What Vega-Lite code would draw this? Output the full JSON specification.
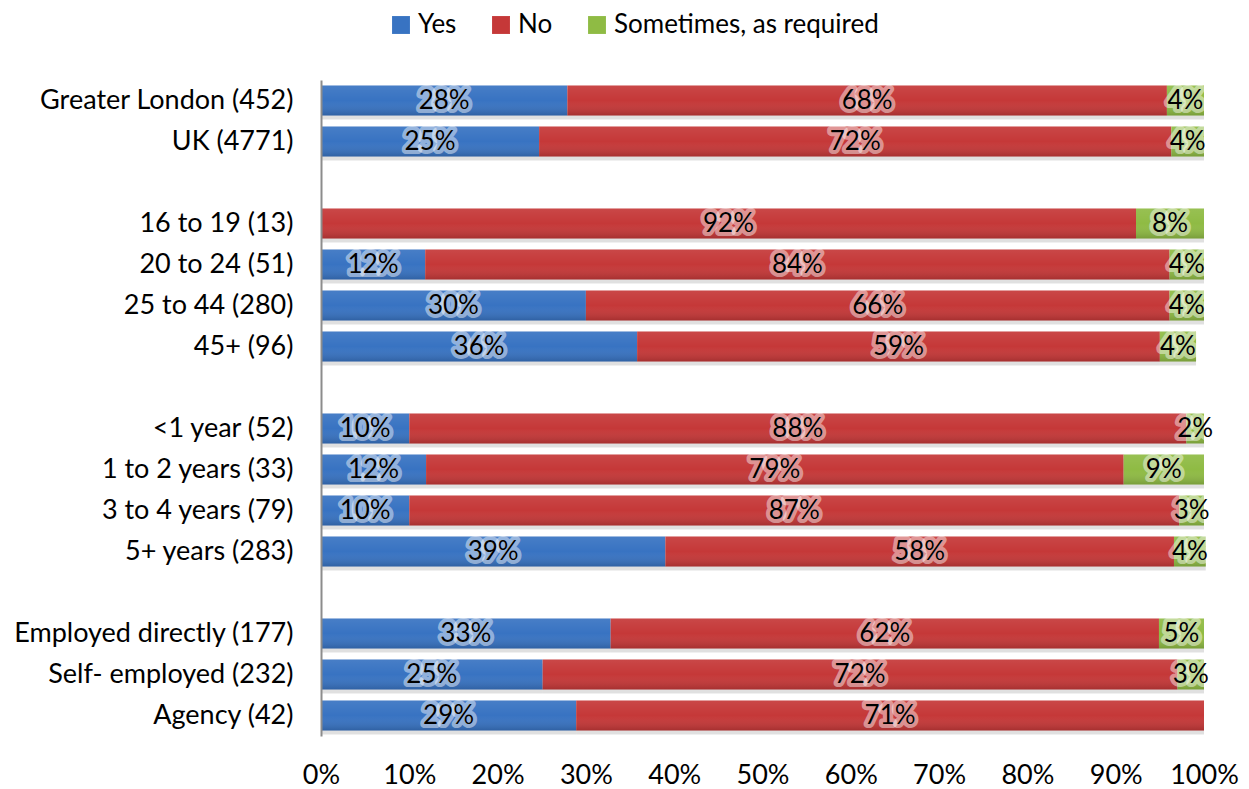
{
  "$schema": "https://vega.github.io/schema/vega-lite/v6.json",
  "autosize": {"type": "none"},
  "width": 883,
  "height": 656,
  "padding": {"left": 321, "top": 80, "right": 45, "bottom": 53},
  "background": "white",
  "config": {
    "font": "Lato",
    "view": {"stroke": null},
    "axis": {"labelFont": "Lato", "labelFontSize": 27, "labelColor": "#000000", "grid": false, "title": null, "labelLimit": 0},
    "legend": {"labelFont": "Lato", "labelFontSize": 26, "labelColor": "#000000", "labelLimit": 0}
  },
  "data": {
    "values": [
      {"c": "Greater London (452)", "r": "Yes", "k": 1, "v": 27.9},
      {"c": "Greater London (452)", "r": "No", "k": 2, "v": 67.9},
      {"c": "Greater London (452)", "r": "Sometimes, as required", "k": 3, "v": 4.2},
      {"c": "UK (4771)", "r": "Yes", "k": 1, "v": 24.7},
      {"c": "UK (4771)", "r": "No", "k": 2, "v": 71.6},
      {"c": "UK (4771)", "r": "Sometimes, as required", "k": 3, "v": 3.7},
      {"c": "16 to 19 (13)", "r": "No", "k": 2, "v": 92.3},
      {"c": "16 to 19 (13)", "r": "Sometimes, as required", "k": 3, "v": 7.7},
      {"c": "20 to 24 (51)", "r": "Yes", "k": 1, "v": 11.8},
      {"c": "20 to 24 (51)", "r": "No", "k": 2, "v": 84.3},
      {"c": "20 to 24 (51)", "r": "Sometimes, as required", "k": 3, "v": 3.9},
      {"c": "25 to 44 (280)", "r": "Yes", "k": 1, "v": 30.0},
      {"c": "25 to 44 (280)", "r": "No", "k": 2, "v": 66.1},
      {"c": "25 to 44 (280)", "r": "Sometimes, as required", "k": 3, "v": 3.9},
      {"c": "45+ (96)", "r": "Yes", "k": 1, "v": 35.8},
      {"c": "45+ (96)", "r": "No", "k": 2, "v": 59.2},
      {"c": "45+ (96)", "r": "Sometimes, as required", "k": 3, "v": 4.1},
      {"c": "<1 year (52)", "r": "Yes", "k": 1, "v": 10.0},
      {"c": "<1 year (52)", "r": "No", "k": 2, "v": 88.0},
      {"c": "<1 year (52)", "r": "Sometimes, as required", "k": 3, "v": 2.0},
      {"c": "1 to 2 years (33)", "r": "Yes", "k": 1, "v": 11.9},
      {"c": "1 to 2 years (33)", "r": "No", "k": 2, "v": 79.0},
      {"c": "1 to 2 years (33)", "r": "Sometimes, as required", "k": 3, "v": 9.1},
      {"c": "3 to 4 years (79)", "r": "Yes", "k": 1, "v": 10.0},
      {"c": "3 to 4 years (79)", "r": "No", "k": 2, "v": 87.2},
      {"c": "3 to 4 years (79)", "r": "Sometimes, as required", "k": 3, "v": 2.8},
      {"c": "5+ years (283)", "r": "Yes", "k": 1, "v": 39.0},
      {"c": "5+ years (283)", "r": "No", "k": 2, "v": 57.6},
      {"c": "5+ years (283)", "r": "Sometimes, as required", "k": 3, "v": 3.6},
      {"c": "Employed directly (177)", "r": "Yes", "k": 1, "v": 32.8},
      {"c": "Employed directly (177)", "r": "No", "k": 2, "v": 62.1},
      {"c": "Employed directly (177)", "r": "Sometimes, as required", "k": 3, "v": 5.1},
      {"c": "Self- employed (232)", "r": "Yes", "k": 1, "v": 25.1},
      {"c": "Self- employed (232)", "r": "No", "k": 2, "v": 71.9},
      {"c": "Self- employed (232)", "r": "Sometimes, as required", "k": 3, "v": 3.0},
      {"c": "Agency (42)", "r": "Yes", "k": 1, "v": 28.9},
      {"c": "Agency (42)", "r": "No", "k": 2, "v": 71.1}
    ]
  },
  "transform": [
    {"stack": "v", "groupby": ["c"], "sort": [{"field": "k", "order": "ascending"}], "as": ["x0", "x1"]},
    {"calculate": "(datum.x0 + datum.x1) / 2", "as": "xm"},
    {"calculate": "format(datum.v, '.0f') + '%'", "as": "lab"}
  ],
  "encoding": {
    "y": {
      "field": "c",
      "type": "nominal",
      "sort": null,
      "scale": {
        "domain": ["Greater London (452)", "UK (4771)", " ", "16 to 19 (13)", "20 to 24 (51)", "25 to 44 (280)", "45+ (96)", "  ", "<1 year (52)", "1 to 2 years (33)", "3 to 4 years (79)", "5+ years (283)", "   ", "Employed directly (177)", "Self- employed (232)", "Agency (42)"],
        "paddingInner": 0.27,
        "paddingOuter": 0.135
      },
      "axis": {"domain": true, "domainColor": "#8c8c8c", "domainWidth": 2, "ticks": false, "labelPadding": 28, "zindex": 1}
    }
  },
  "layer": [
    {
      "mark": {"type": "bar", "yOffset": 4, "color": "#000000", "opacity": 0.12},
      "encoding": {
        "x": {"field": "x0", "type": "quantitative", "scale": {"domain": [0, 100], "nice": false},
              "axis": {"values": [0, 10, 20, 30, 40, 50, 60, 70, 80, 90, 100], "labelExpr": "datum.value + '%'", "domain": false, "ticks": false, "labelPadding": 26, "labelFlush": false, "labelOverlap": false}},
        "x2": {"field": "x1"}
      }
    },
    {
      "mark": {"type": "bar"},
      "encoding": {
        "x": {"field": "x0", "type": "quantitative"},
        "x2": {"field": "x1"},
        "color": {
          "field": "r",
          "type": "nominal",
          "scale": {"domain": ["Yes", "No", "Sometimes, as required"], "range": ["#3873c2", "#c53838", "#8fbb44"]},
          "legend": {
            "title": null,
            "orient": "none",
            "legendX": 67,
            "legendY": -68,
            "direction": "horizontal",
            "symbolType": "square",
            "symbolSize": 320,
            "symbolStrokeWidth": 0,
            "labelOffset": 4,
            "columnPadding": 31
          }
        }
      }
    },
    {
      "mark": {
        "type": "bar",
        "fill": {"gradient": "linear", "x1": 0, "y1": 0, "x2": 0, "y2": 1,
                 "stops": [{"offset": 0, "color": "rgba(255,255,255,0.08)"}, {"offset": 0.5, "color": "rgba(255,255,255,0)"}, {"offset": 1, "color": "rgba(0,0,0,0.16)"}]}
      },
      "encoding": {
        "x": {"field": "x0", "type": "quantitative"},
        "x2": {"field": "x1"}
      }
    },
    {
      "mark": {"type": "text", "fontSize": 26, "font": "Lato", "fill": "#ffffff", "stroke": "#ffffff", "strokeWidth": 8, "strokeOpacity": 0.45, "fillOpacity": 0.45, "strokeJoin": "round", "align": "center", "baseline": "middle"},
      "encoding": {
        "x": {"field": "xm", "type": "quantitative"},
        "text": {"field": "lab"}
      }
    },
    {
      "mark": {"type": "text", "fontSize": 26, "font": "Lato", "fill": "#000000", "align": "center", "baseline": "middle"},
      "encoding": {
        "x": {"field": "xm", "type": "quantitative"},
        "text": {"field": "lab"}
      }
    }
  ]
}
